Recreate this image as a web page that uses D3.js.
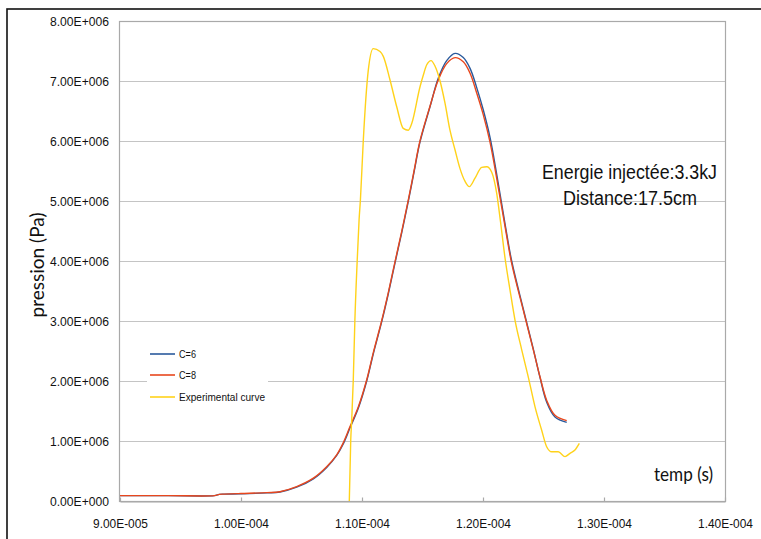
<!DOCTYPE html>
<html>
<head>
<meta charset="utf-8">
<script src="https://cdn.jsdelivr.net/npm/d3@7"></script>
<style>
  html, body { margin: 0; padding: 0; background: #fff; }
  svg { display: block; }
</style>
</head>
<body>
<svg id="chart" width="761" height="539"></svg>
<script>
// ---- data (time in s, pressure in Pa) ----
const seriesNames = ["C=6", "C=8", "Experimental curve"];
const seriesColors = ["#2a5a9c", "#e8471d", "#ffd21a"];

const c6Time = [9.00e-5, 9.40e-5, 9.78e-5, 9.82e-5, 9.86e-5, 1.0e-4, 1.0215e-4, 1.0322e-4, 1.046e-4, 1.0598e-4, 1.0708e-4, 1.0791e-4, 1.0845e-4, 1.0901e-4, 1.0970e-4, 1.1039e-4, 1.1093e-4, 1.1162e-4, 1.1217e-4, 1.1273e-4, 1.1328e-4, 1.1383e-4, 1.143e-4, 1.1479e-4, 1.1562e-4, 1.1631e-4, 1.170e-4, 1.1769e-4, 1.1837e-4, 1.1893e-4, 1.1948e-4, 1.2002e-4, 1.2058e-4, 1.2113e-4, 1.2187e-4, 1.2237e-4, 1.2333e-4, 1.2416e-4, 1.2471e-4, 1.2526e-4, 1.2595e-4, 1.2692e-4];
const c6Values = [0.09e6, 0.09e6, 0.09e6, 0.11e6, 0.115e6, 0.12e6, 0.135e6, 0.15e6, 0.23e6, 0.37e6, 0.56e6, 0.76e6, 0.95e6, 1.22e6, 1.55e6, 2.0e6, 2.45e6, 2.98e6, 3.45e6, 3.97e6, 4.47e6, 5.0e6, 5.48e6, 5.98e6, 6.57e6, 7.05e6, 7.34e6, 7.46e6, 7.39e6, 7.21e6, 6.89e6, 6.52e6, 6.06e6, 5.45e6, 4.56e6, 4.0e6, 3.2e6, 2.53e6, 2.06e6, 1.65e6, 1.40e6, 1.31e6];

const c8Time = [9.00e-5, 9.40e-5, 9.78e-5, 9.82e-5, 9.86e-5, 1.0e-4, 1.0215e-4, 1.0322e-4, 1.046e-4, 1.0598e-4, 1.0708e-4, 1.0791e-4, 1.0845e-4, 1.0901e-4, 1.0970e-4, 1.1039e-4, 1.1093e-4, 1.1162e-4, 1.1217e-4, 1.1273e-4, 1.1328e-4, 1.1383e-4, 1.143e-4, 1.1479e-4, 1.1562e-4, 1.1631e-4, 1.170e-4, 1.1769e-4, 1.1837e-4, 1.1893e-4, 1.1948e-4, 1.2002e-4, 1.2058e-4, 1.2113e-4, 1.2187e-4, 1.2237e-4, 1.2333e-4, 1.2416e-4, 1.2471e-4, 1.2526e-4, 1.2595e-4, 1.2692e-4];
const c8Values = [0.09e6, 0.09e6, 0.09e6, 0.11e6, 0.115e6, 0.125e6, 0.14e6, 0.155e6, 0.24e6, 0.38e6, 0.57e6, 0.77e6, 0.97e6, 1.24e6, 1.57e6, 2.02e6, 2.47e6, 3.0e6, 3.47e6, 3.99e6, 4.49e6, 5.02e6, 5.5e6, 6.0e6, 6.58e6, 7.02e6, 7.29e6, 7.39e6, 7.32e6, 7.13e6, 6.8e6, 6.44e6, 5.98e6, 5.38e6, 4.52e6, 3.96e6, 3.18e6, 2.52e6, 2.07e6, 1.68e6, 1.43e6, 1.34e6];

const expTime = [1.0895e-4, 1.0907e-4, 1.0915e-4, 1.0928e-4, 1.0941e-4, 1.0960e-4, 1.0976e-4, 1.0987e-4, 1.1011e-4, 1.1052e-4, 1.1093e-4, 1.1149e-4, 1.1176e-4, 1.1231e-4, 1.1287e-4, 1.1341e-4, 1.1383e-4, 1.1411e-4, 1.1479e-4, 1.1507e-4, 1.1535e-4, 1.1571e-4, 1.1603e-4, 1.1645e-4, 1.1686e-4, 1.1727e-4, 1.1769e-4, 1.1810e-4, 1.1851e-4, 1.1887e-4, 1.1934e-4, 1.1989e-4, 1.2031e-4, 1.2072e-4, 1.2113e-4, 1.2145e-4, 1.2182e-4, 1.2223e-4, 1.2264e-4, 1.2320e-4, 1.2374e-4, 1.2430e-4, 1.2485e-4, 1.2526e-4, 1.2568e-4, 1.2622e-4, 1.2678e-4, 1.2719e-4, 1.2760e-4, 1.2796e-4];
const expValues = [0, 1.02e6, 1.35e6, 2.02e6, 3.0e6, 3.99e6, 4.69e6, 5.02e6, 6.02e6, 7.18e6, 7.54e6, 7.49e6, 7.41e6, 7.02e6, 6.57e6, 6.21e6, 6.18e6, 6.29e6, 6.9e6, 7.1e6, 7.27e6, 7.34e6, 7.25e6, 7.0e6, 6.63e6, 6.18e6, 5.85e6, 5.54e6, 5.33e6, 5.24e6, 5.38e6, 5.56e6, 5.57e6, 5.48e6, 5.13e6, 4.65e6, 4.05e6, 3.52e6, 3.02e6, 2.52e6, 2.07e6, 1.57e6, 1.18e6, 0.905e6, 0.82e6, 0.82e6, 0.74e6, 0.795e6, 0.85e6, 0.96e6];

const xTicks = [9.0e-5, 1.0e-4, 1.1e-4, 1.2e-4, 1.3e-4, 1.4e-4];
const xTickLabels = ["9.00E-005", "1.00E-004", "1.10E-004", "1.20E-004", "1.30E-004", "1.40E-004"];
const yTicks = [0, 1e6, 2e6, 3e6, 4e6, 5e6, 6e6, 7e6, 8e6];
const yTickLabels = ["0.00E+000", "1.00E+006", "2.00E+006", "3.00E+006", "4.00E+006", "5.00E+006", "6.00E+006", "7.00E+006", "8.00E+006"];

const xTitle = "temp (s)";
const yTitle = "pression (Pa)";
const annotations = ["Energie injectée:3.3kJ", "Distance:17.5cm"];

// ---- layout ----
const plot = { left: 120, right: 725, top: 21, bottom: 501 };
const svg = d3.select("#chart");

const x = d3.scaleLinear().domain([9.0e-5, 1.4e-4]).range([plot.left, plot.right]);
const y = d3.scaleLinear().domain([0, 8e6]).range([plot.bottom, plot.top]);

// outer frame
svg.append("rect").attr("x", 7).attr("y", 9).attr("width", 770).attr("height", 560)
  .attr("fill", "none").attr("stroke", "#111").attr("stroke-width", 1.6);

// gridlines
svg.append("g").selectAll("line").data(yTicks.filter(v => v > 0)).join("line")
  .attr("x1", plot.left).attr("x2", plot.right)
  .attr("y1", d => Math.round(y(d)) + 0.5).attr("y2", d => Math.round(y(d)) + 0.5)
  .attr("stroke", "#c4c4c4").attr("stroke-width", 1.2);

// plot border
svg.append("rect").attr("x", plot.left - 0.5).attr("y", plot.top + 0.5)
  .attr("width", plot.right - plot.left + 1).attr("height", plot.bottom - plot.top)
  .attr("fill", "none").attr("stroke", "#a9a9a9").attr("stroke-width", 1.2);

// x axis
const xAxis = svg.append("g").attr("transform", `translate(0,${plot.bottom + 0.5})`)
  .call(d3.axisBottom(x).tickValues(xTicks).tickFormat((d, i) => xTickLabels[i]).tickSizeInner(-4).tickSizeOuter(0).tickPadding(17));
xAxis.select(".domain").attr("stroke", "#a9a9a9").attr("stroke-width", 1.2);
xAxis.selectAll(".tick line").attr("stroke", "#a9a9a9").attr("stroke-width", 1.2);
xAxis.selectAll(".tick text").attr("font-family", "'Liberation Sans', Arial, sans-serif")
  .attr("font-size", 13).attr("fill", "#111")
  .attr("textLength", 55).attr("lengthAdjust", "spacingAndGlyphs");

// y axis
const yAxis = svg.append("g").attr("transform", `translate(${plot.left},0)`)
  .call(d3.axisLeft(y).tickValues(yTicks).tickFormat((d, i) => yTickLabels[i]).tickSize(0).tickPadding(11));
yAxis.select(".domain").remove();
yAxis.selectAll(".tick text").attr("font-family", "'Liberation Sans', Arial, sans-serif")
  .attr("font-size", 13).attr("fill", "#111")
  .attr("textLength", 59).attr("lengthAdjust", "spacingAndGlyphs");

// series
const smoothLine = d3.line().x(d => x(d[0])).y(d => y(d[1])).curve(d3.curveCatmullRom.alpha(0.5));
const monoLine = d3.line().x(d => x(d[0])).y(d => y(d[1])).curve(d3.curveMonotoneX);
const series = [
  c6Time.map((t, i) => [t, c6Values[i]]),
  c8Time.map((t, i) => [t, c8Values[i]]),
  expTime.map((t, i) => [t, expValues[i]])
];
series.forEach((s, i) => {
  svg.append("path").datum(s).attr("d", i < 2 ? smoothLine : monoLine)
    .attr("fill", "none").attr("stroke", seriesColors[i]).attr("stroke-width", 1.4)
    .attr("stroke-linejoin", "round");
});

// legend
const legend = svg.append("g");
legend.append("rect").attr("x", 147).attr("y", 342).attr("width", 121).attr("height", 66).attr("fill", "#fff");
const legendY = [354, 375, 397];
seriesNames.forEach((name, i) => {
  legend.append("line").attr("x1", 150).attr("x2", 175)
    .attr("y1", legendY[i]).attr("y2", legendY[i])
    .attr("stroke", seriesColors[i]).attr("stroke-width", 1.6);
  legend.append("text").attr("x", 179).attr("y", legendY[i] + 4)
    .attr("font-family", "'Liberation Sans', Arial, sans-serif").attr("font-size", 11)
    .attr("fill", "#111")
    .attr("textLength", [17, 17, 86][i]).attr("lengthAdjust", "spacingAndGlyphs")
    .text(name);
});

// annotations
svg.append("text").attr("x", 629.5).attr("y", 179).attr("text-anchor", "middle")
  .attr("font-family", "'Liberation Sans', Arial, sans-serif").attr("font-size", 20).attr("fill", "#111")
  .attr("textLength", 175).attr("lengthAdjust", "spacingAndGlyphs").text(annotations[0]);
svg.append("text").attr("x", 630).attr("y", 205).attr("text-anchor", "middle")
  .attr("font-family", "'Liberation Sans', Arial, sans-serif").attr("font-size", 20).attr("fill", "#111")
  .attr("textLength", 134).attr("lengthAdjust", "spacingAndGlyphs").text(annotations[1]);

// axis titles
svg.append("text").attr("x", 713).attr("y", 481).attr("text-anchor", "end")
  .attr("font-family", "Lato, 'Open Sans', sans-serif").attr("font-size", 19).attr("fill", "#111")
  .attr("textLength", 59).attr("lengthAdjust", "spacingAndGlyphs").text(xTitle);
svg.append("text").attr("transform", "translate(44,265) rotate(-90)").attr("text-anchor", "middle")
  .attr("font-family", "Lato, 'Open Sans', sans-serif").attr("font-size", 19).attr("fill", "#111")
  .attr("textLength", 105).attr("lengthAdjust", "spacingAndGlyphs").text(yTitle);
</script>
</body>
</html>
